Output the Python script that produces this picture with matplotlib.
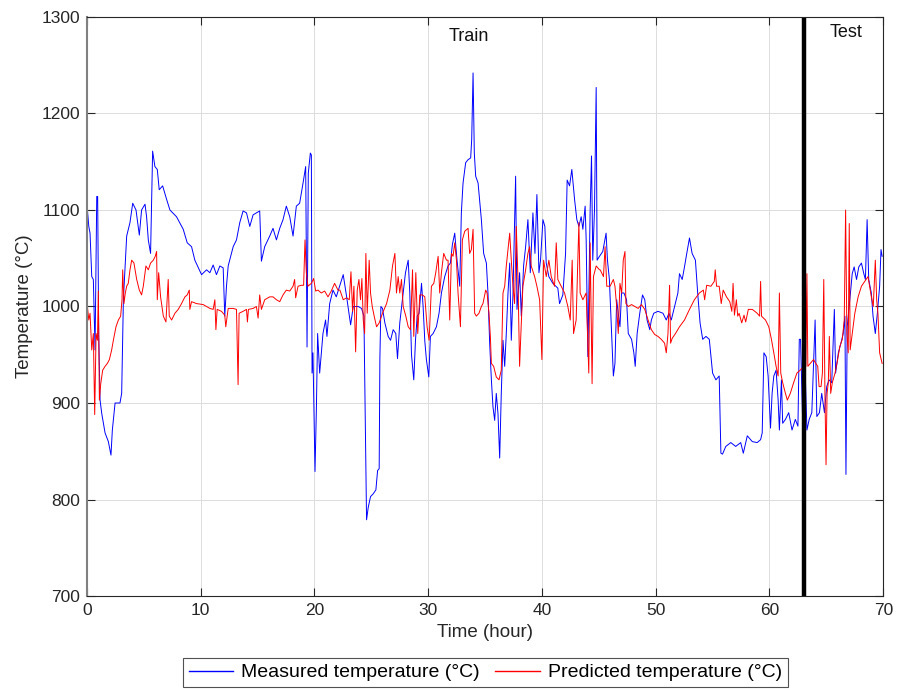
import matplotlib
matplotlib.use("Agg")
import matplotlib.pyplot as plt

plt.rcParams['font.family'] = ['Liberation Sans', 'DejaVu Sans']

# Measured temperature (blue)
meas_t = [0.0, 0.06, 0.18, 0.29, 0.44, 0.58, 0.73, 0.88, 0.96, 1.05, 1.17, 1.32, 1.61, 1.90, 2.13, 2.25,
          2.49, 2.92, 3.07, 3.22, 3.51, 3.80, 4.04, 4.33, 4.62, 4.82, 5.12, 5.26, 5.41, 5.61, 5.79, 5.99,
          6.20, 6.37, 6.67, 7.02, 7.31, 7.89, 8.48, 8.83, 9.21, 9.50, 10.09, 10.53, 10.82, 11.11, 11.40,
          11.70, 11.99, 12.13, 12.28, 12.43, 12.87, 13.16, 13.45, 13.74, 14.04, 14.33, 14.62, 14.91, 15.20,
          15.35, 15.64, 16.08, 16.37, 16.67, 16.96, 17.25, 17.54, 17.84, 18.13, 18.42, 18.71, 19.01, 19.24,
          19.36, 19.47, 19.65, 19.74, 19.80, 19.88, 20.06, 20.18, 20.29, 20.47, 20.76, 20.99, 21.11, 21.35,
          21.64, 21.93,
          22.54, 22.84, 23.19, 23.42, 23.86, 24.15, 24.36, 24.47, 24.59, 24.74, 24.94, 25.18, 25.41, 25.56,
          25.70, 25.76, 25.85, 25.99, 26.20, 26.49, 26.70, 26.93, 27.16, 27.31, 27.51, 27.81, 28.01, 28.25,
          28.39, 28.54, 28.74, 28.89, 29.04, 29.21, 29.42, 29.56, 29.71, 29.85, 30.06, 30.20, 30.44, 30.73,
          30.96, 31.17, 31.46, 31.75, 31.96, 32.13, 32.34, 32.54, 32.78, 32.92, 33.07, 33.30, 33.50, 33.74,
          33.83, 33.95, 34.06, 34.18, 34.39, 34.68, 34.88, 35.12, 35.26, 35.41, 35.56, 35.70, 35.85, 35.99,
          36.14, 36.29, 36.43, 36.58, 36.73, 36.87, 37.02, 37.17, 37.31, 37.46, 37.69, 37.81, 38.04, 38.19,
          38.39, 38.57, 38.77, 38.98, 39.21, 39.39, 39.56, 39.74, 39.88, 40.09, 40.26, 40.38, 40.61, 40.96,
          41.40, 41.55, 41.84, 42.08, 42.22, 42.43, 42.63, 42.87, 43.07, 43.25, 43.45, 43.60, 43.80, 43.89,
          44.04, 44.24, 44.36, 44.47, 44.62, 44.77, 44.85, 45.06, 45.35, 45.64,
          45.76, 45.93, 46.13, 46.28, 46.42, 46.57, 46.71, 46.86, 47.00, 47.21, 47.44, 47.59, 47.88, 48.08,
          48.20, 48.37, 48.60, 48.84, 49.04, 49.24, 49.48, 49.62, 49.83, 50.20, 50.64, 50.93, 51.16, 51.37,
          51.66, 51.95, 52.09, 52.33, 52.53, 52.73, 52.97, 53.20, 53.49, 53.69, 53.90, 54.13, 54.42, 54.71,
          55.00, 55.29, 55.58, 55.73, 55.87, 56.16, 56.60, 57.03, 57.47, 57.70, 58.05, 58.49, 58.92, 59.22,
          59.36, 59.51, 59.71, 59.88, 60.09, 60.23, 60.38, 60.58, 60.76, 60.87, 61.05, 61.16, 61.40, 61.69,
          61.98, 62.27, 62.50, 62.62, 62.73, 62.91, 63.14, 63.29, 63.49, 63.72, 64.01, 64.16, 64.39, 64.59,
          64.83, 65.03, 65.23, 65.47, 65.70, 65.81, 66.05, 66.28, 66.48, 66.63, 66.72, 66.83, 67.06, 67.27,
          67.44, 67.65, 67.85, 68.08, 68.29, 68.43, 68.58, 68.72, 68.95, 69.10, 69.30, 69.48, 69.68, 69.80,
          69.90]
meas_v = [952, 1100, 1083, 1076, 1031, 1028, 955, 1114, 1114, 972, 903, 889, 869, 860, 846, 872,
          900, 900, 910, 1007, 1073, 1087, 1107, 1100, 1074, 1100, 1106, 1093, 1069, 1055, 1161, 1145,
          1142, 1121, 1125, 1111, 1100, 1093, 1080, 1066, 1062, 1048, 1033, 1038, 1035, 1043, 1033,
          1042, 1040, 990, 1021, 1042, 1062, 1069, 1087, 1099, 1097, 1083, 1095, 1097, 1099,
          1047, 1062, 1073, 1081, 1069, 1081, 1090, 1104, 1093, 1073, 1104, 1107, 1128, 1145,
          958, 1138, 1159, 1157, 931, 952, 829, 893, 972, 931, 972, 986, 969, 1003,
          1017, 1010,
          1033, 1010, 981, 1000, 1000, 998, 990, 893, 779, 792, 803, 806, 810, 830,
          832, 945, 1000, 998, 983, 969, 965, 976, 972, 946, 983, 1014, 1035, 1048,
          1014, 950, 924, 965, 990, 993, 1024, 1000, 964, 945, 927, 969, 972, 979,
          993, 1014, 1031, 1042, 1045, 1064, 1076, 1048, 1021, 1097, 1128, 1149, 1152, 1154,
          1173, 1242, 1159, 1135, 1128, 1090, 1055, 1045, 1014, 962, 924, 896, 882, 910,
          889, 843, 910, 965, 938, 972, 1014, 1045, 965, 1014, 1135, 997, 1035, 990,
          1042, 1062, 1090, 1035, 1097, 1055, 1116, 1035, 1048, 1090, 1083, 1045, 1031, 1024,
          1019, 1003, 1012, 1055, 1131, 1125, 1142, 1111, 1090, 1083, 1093, 1080, 1104, 1069,
          948, 1100, 1156, 1048, 1100, 1227, 1048, 1052, 1057, 1076,
          1048, 1028, 972, 928, 941, 1007, 993, 979, 1014, 1014, 1007, 972, 966, 952,
          938, 972, 993, 1012, 1007, 986, 976, 986, 993, 995, 993, 986, 993, 986,
          1000, 1014, 1034, 1028, 1041, 1055, 1071, 1055, 1048, 1014, 983, 966, 969, 966,
          931, 924, 928, 848, 847, 855, 859, 855, 859, 848, 866, 860, 859, 862,
          869, 952, 948, 928, 874, 910, 928, 934, 903, 872, 924, 879, 883, 890,
          872, 883, 876, 966, 966, 883, 931, 872, 883, 890, 986, 886, 890, 910,
          890, 917, 924, 921, 997, 931, 952, 962, 972, 990, 826, 979, 1007, 1034,
          1041, 1028, 1041, 1045, 1034, 1028, 1090, 1028, 1014, 990, 972, 993, 1021, 1059,
          1052]

# Predicted temperature (red)
pred_t = [0.0, 0.06, 0.18, 0.29, 0.44, 0.58, 0.70, 0.82, 0.94, 1.02, 1.11, 1.23, 1.40, 1.61, 1.81, 1.99,
          2.19, 2.34, 2.57, 2.78, 2.98, 3.10, 3.16, 3.27, 3.39, 3.51, 3.65, 3.80, 3.95, 4.15, 4.39, 4.62,
          4.82, 4.97, 5.20, 5.41, 5.61, 5.85, 6.02, 6.14, 6.20, 6.32, 6.49, 6.73, 6.96, 7.16, 7.25, 7.46,
          7.75, 8.04, 8.33, 8.63, 8.83, 9.01, 9.06, 9.21, 9.65, 10.23, 10.82, 11.11, 11.26, 11.35, 11.46,
          11.84, 12.13, 12.22, 12.43, 12.87, 13.16, 13.30, 13.39, 13.74, 14.04, 14.12, 14.21, 14.62, 14.91,
          15.06, 15.20, 15.35, 15.64, 16.08, 16.37, 16.67, 16.96, 17.25, 17.54, 17.84, 18.13, 18.27, 18.36,
          18.57, 18.86, 19.06, 19.18, 19.30, 19.44, 19.74, 19.94, 20.12, 20.32, 20.61, 20.91, 21.20, 21.49,
          21.78, 22.08,
          22.25, 22.54, 22.84, 23.07, 23.22, 23.36, 23.48, 23.63, 23.77, 23.92, 24.06, 24.18, 24.30, 24.42,
          24.53, 24.65, 24.82, 24.94, 25.09, 25.26, 25.47, 25.70, 25.99, 26.35, 26.64, 26.87, 27.08, 27.22,
          27.37, 27.51, 27.66, 27.81, 28.04, 28.25, 28.45, 28.63, 28.74, 28.92, 29.09, 29.27, 29.50, 29.71,
          29.91, 30.09, 30.29, 30.50, 30.67, 30.88, 31.02, 31.17, 31.37, 31.61, 31.75, 31.90, 32.05, 32.19,
          32.34, 32.49, 32.63, 32.84, 33.01, 33.22, 33.51, 33.65, 33.80, 33.95, 34.09, 34.24, 34.47, 34.68,
          34.82, 35.06, 35.18, 35.35, 35.47, 35.56, 35.76, 35.99, 36.23, 36.43, 36.58, 36.73, 36.87, 37.02,
          37.17, 37.31, 37.46, 37.60, 37.75, 37.89, 38.04, 38.19, 38.33, 38.57, 38.77, 38.92, 39.06, 39.36,
          39.56, 39.80, 40.00, 40.15, 40.38, 40.61, 40.82, 41.11, 41.26, 41.40, 41.70, 41.99, 42.28, 42.49,
          42.66, 42.78, 43.01, 43.25, 43.36, 43.60, 43.89, 44.12, 44.24, 44.41, 44.53, 44.77, 45.06,
          45.12, 45.41, 45.55, 45.70, 45.99, 46.28, 46.42, 46.57, 46.71, 46.86, 47.01, 47.15, 47.30, 47.38,
          47.59, 47.88, 48.17, 48.46, 48.75, 49.04, 49.33, 49.62, 49.91, 50.20, 50.49, 50.78, 50.93, 51.08,
          51.22, 51.31, 51.45, 51.74, 52.09, 52.53, 52.97, 53.40, 53.84, 54.19, 54.30, 54.48, 54.85, 55.15,
          55.23, 55.35, 55.58, 55.76, 55.93, 56.22, 56.51, 56.69, 56.80, 56.92, 57.09, 57.21, 57.33, 57.56,
          57.76, 57.91, 58.14, 58.49, 58.92, 59.13, 59.22, 59.30, 59.65, 59.94, 60.17, 60.38, 60.58, 60.76,
          60.87, 60.99, 61.16, 61.40, 61.57, 61.83, 62.12, 62.41, 62.70, 62.99, 63.14, 63.20, 63.29, 63.37,
          63.58, 63.87, 64.07, 64.24, 64.36, 64.53, 64.65, 64.77, 64.88, 64.97, 65.06, 65.17, 65.26, 65.38,
          65.52, 65.76, 65.99, 66.19, 66.40, 66.57, 66.69, 66.80, 66.92, 67.01, 67.09, 67.27, 67.50, 67.79,
          68.08, 68.37, 68.66, 68.80, 68.95, 69.12, 69.30, 69.42, 69.53, 69.68, 69.90]
pred_v = [993, 1000, 986, 993, 955, 972, 888, 972, 965, 1016, 903, 920, 934, 938, 941, 945,
          955, 965, 979, 986, 990, 1007, 1038, 1003, 1014, 1021, 1024, 1038, 1048, 1045, 1028, 1017,
          1012, 1021, 1042, 1038, 1045, 1048, 1052, 1057, 1007, 1035, 1010, 990, 984, 1028, 990, 986,
          993, 997, 1003, 1010, 1012, 1017, 997, 1005, 1003, 1002, 998, 997, 1007, 976, 997,
          995, 991, 979, 998, 998, 997, 919, 993, 995, 997, 984, 997, 998, 1000,
          988, 1012, 997, 1007, 1010, 1010, 1007, 1005, 1012, 1017, 1016, 1021, 1028, 1009,
          1021, 1022, 1022, 1069, 1035, 1021, 1024, 1029, 1016, 1017, 1014, 1016, 1010, 1016,
          1024, 1017,
          1017, 1007, 1009, 1007, 1036, 995, 1021, 953, 1017, 1028, 1007, 1029, 986, 972,
          1055, 993, 1048, 1014, 1000, 990, 979, 983, 993, 1003, 1017, 1042, 1055, 1014,
          1031, 1014, 1028, 1000, 990, 979, 976, 1038, 969, 1035, 972, 1012, 1012, 1010,
          979, 965, 1021, 1024, 1035, 1052, 1014, 1035, 1055, 1048, 1048, 986, 1055, 1052,
          1066, 1048, 1014, 979, 1069, 1078, 1081, 1055, 1059, 1080, 993, 990, 993, 1000,
          1003, 1017, 1014, 993, 969, 941, 938, 927, 924, 934, 1014, 1021, 1042, 1059,
          1076, 1048, 1021, 1003, 1083, 1031, 938, 983, 1021, 1038, 1055, 1062, 1042, 1031,
          1021, 1007, 945, 1048, 1031, 1048, 1031, 1021, 1066, 1028, 1021, 1014, 1000, 986,
          1048, 972, 986, 1087, 1014, 1007, 1014, 931, 1066, 920, 1031, 1042, 1038,
          1038, 1031, 1062, 1021, 1021, 1028, 1021, 1000, 972, 1024, 1014, 1048, 1057, 1003,
          1000, 1002, 1000, 998, 1002, 997, 986, 976, 971, 969, 966, 962, 952, 972,
          1022, 962, 967, 972, 979, 986, 997, 1007, 1014, 1017, 1007, 1022, 1021, 1026,
          1038, 1021, 1021, 1003, 1017, 1010, 1005, 995, 1024, 991, 1007, 990, 993, 983,
          991, 984, 997, 997, 993, 990, 1026, 990, 986, 979, 966, 952, 938, 928,
          1014, 931, 921, 910, 903, 910, 921, 931, 934, 938, 1093, 938, 1034, 938,
          941, 945, 941, 938, 917, 917, 931, 1028, 903, 836, 910, 921, 969, 910,
          921, 931, 945, 959, 966, 986, 1100, 972, 952, 1086, 955, 972, 993, 1010,
          1021, 1026, 1031, 1021, 1010, 1000, 1048, 1007, 993, 952, 941]

x_ticks = [0, 10, 20, 30, 40, 50, 60, 70]
y_ticks = [700, 800, 900, 1000, 1100, 1200, 1300]
split_hour = 63

fig = plt.figure(figsize=(8.97, 6.90), dpi=100)
ax = fig.add_axes([0.0967, 0.1362, 0.888, 0.8392])

ax.plot(meas_t, meas_v, color=(0, 0, 1), lw=0.7, label='Measured temperature (°C)')
ax.plot(pred_t, pred_v, color=(1, 0, 0), lw=0.7, label='Predicted temperature (°C)')
ax.axvline(split_hour, color='black', lw=3.2)

ax.text(33.6, 1280, 'Train', ha='center', va='center', fontsize=13, color='#111111')
ax.text(66.7, 1284, 'Test', ha='center', va='center', fontsize=13, color='#111111')

ax.set_xlim(0, 70)
ax.set_ylim(700, 1300)
ax.set_xticks(x_ticks)
ax.set_yticks(y_ticks)
ax.grid(True, color='#dcdcdc', lw=0.7)
ax.set_axisbelow(True)
ax.tick_params(direction='in', length=6, width=0.8, top=True, right=True,
               labelsize=12.5, colors='#262626', pad=5)
for s in ax.spines.values():
    s.set_color('#262626')
    s.set_linewidth(0.8)
ax.spines['left'].set_color('#808080')
ax.spines['left'].set_linewidth(1.5)
ax.set_xlabel('Time (hour)', fontsize=13.5, color='#262626', labelpad=4)
ax.set_ylabel('Temperature (°C)', fontsize=13.5, color='#262626', labelpad=6)

leg = fig.legend(loc='upper center', bbox_to_anchor=(0.541, 0.0464), ncol=2,
                 fontsize=14, frameon=True, fancybox=False, edgecolor='#262626',
                 handlelength=2.3, handletextpad=0.4, columnspacing=0.8,
                 borderpad=0.3, borderaxespad=0)
leg.get_frame().set_linewidth(0.8)
for line in leg.get_lines():
    line.set_linewidth(1.0)

fig.savefig('out.png', dpi=100)
